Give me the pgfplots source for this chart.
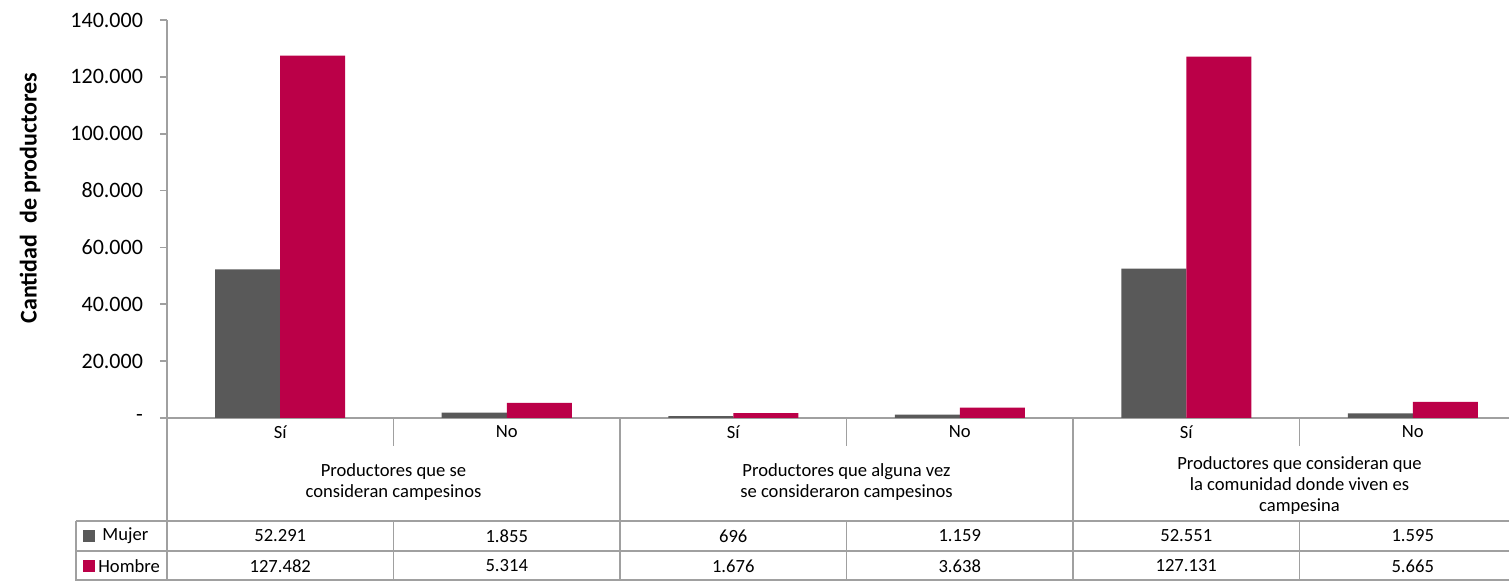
\documentclass[border=0pt]{standalone}
\usepackage{fontspec}
\setmainfont{Carlito}
\usepackage{pgfplots}
\pgfplotsset{compat=1.18}
\definecolor{mujer}{RGB}{89,89,89}
\definecolor{hombre}{RGB}{187,0,72}
\definecolor{linegray}{RGB}{160,160,160}
\begin{document}
\begin{tikzpicture}[x=1pt,y=1pt]
\begin{axis}[
  at={(0,0)}, anchor=south west,
  scale only axis, width=671pt, height=199pt,
  ybar=0pt, bar width=32.5pt,
  xmin=-0.5, xmax=5.425,
  ymin=0, ymax=140000,
  ytick={0,20000,...,140000},
  scaled y ticks=false,
  yticklabels={-,20.000,40.000,60.000,80.000,100.000,120.000,140.000},
  xtick=\empty,
  axis x line*=bottom, axis y line*=left,
  axis line style={linegray, line width=0.8pt, -},
  y tick style={linegray, line width=0.8pt},
  tick align=outside, major tick length=3.5pt,
  yticklabel style={font=\fontsize{11}{13}\selectfont, xshift=-5pt},
  clip=false,
]
\addplot[draw=none, fill=mujer] coordinates {
  (0,52291) (1,1855) (2,696) (3,1159) (4,52551) (5,1595)
};
\addplot[draw=none, fill=hombre] coordinates {
  (0,127482) (1,5314) (2,1676) (3,3638) (4,127131) (5,5665)
};
\end{axis}
% y label
\node[rotate=90, font=\fontsize{12}{14}\selectfont\bfseries] at (-68.5,110) {Cantidad\ \ de productores};
% data table below the axis
\begin{scope}[linegray, line width=0.8pt]
  \foreach \x in {0,226.5,453} \draw (\x,0) -- (\x,-81.5);
  \foreach \x in {113.25,339.75,566.25} {
    \draw (\x,0) -- (\x,-14);
    \draw (\x,-51.5) -- (\x,-81.5);
  }
  \draw (-45.5,-51.5) -- (680,-51.5);
  \draw (-45.5,-66.5) -- (680,-66.5);
  \draw (-45.5,-81) -- (680,-81);
  \draw (-45.5,-51.5) -- (-45.5,-81.5);
\end{scope}
\begin{scope}[font=\fontsize{9.3}{10.5}\selectfont]
  \foreach \i/\lab in {0/Sí,1/No,2/Sí,3/No,4/Sí,5/No}
    \node at ({56.625+113.25*\i},-7) {\lab};
  \node[align=center] at (113.25,-32.25) {Productores que se\\consideran campesinos};
  \node[align=center] at (339.75,-32.25) {Productores que alguna vez\\se consideraron campesinos};
  \node[align=center] at (566.25,-33.75) {Productores que consideran que\\la comunidad donde viven es\\campesina};
  \foreach \i/\v in {0/52.291,1/1.855,2/696,3/1.159,4/52.551,5/1.595}
    \node at ({56.625+113.25*\i},-59) {\v};
  \foreach \i/\v in {0/127.482,1/5.314,2/1.676,3/3.638,4/127.131,5/5.665}
    \node at ({56.625+113.25*\i},-74) {\v};
  \fill[mujer] (-42,-62) rectangle (-36,-56);
  \node[anchor=west, inner sep=0pt] at (-32.5,-59) {Mujer};
  \fill[hombre] (-42,-77) rectangle (-36,-71);
  \node[anchor=west, inner sep=0pt] at (-34.5,-74) {Hombre};
\end{scope}
\pgfresetboundingbox
\path[use as bounding box] (-83.5,-81.5) rectangle (671,209);
\end{tikzpicture}
\end{document}
